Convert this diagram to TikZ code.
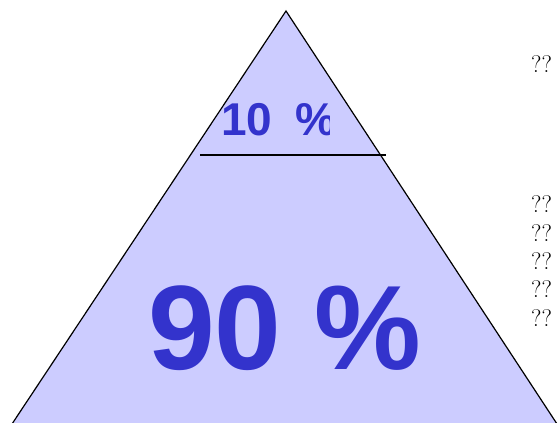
\documentclass[tikz,border=0pt]{standalone}
\usepackage{fontspec}
\newfontfamily\pctfont{Liberation Sans}
\usepackage{tikz}
\definecolor{pyrfill}{HTML}{CCCCFF}
\definecolor{pcttext}{HTML}{3333CC}

\begin{document}
\begin{tikzpicture}[
    x=1pt, y=-1pt,
    pyramid/.style={draw=black, line width=1.2pt, fill=pyrfill, line join=miter},
    divider/.style={draw=black, line width=1.2pt},
    pct/.style={inner sep=0pt, text=pcttext},
    note/.style={inner sep=0pt, anchor=base west, font=\fontsize{24}{28}\selectfont}
]
\useasboundingbox (0,0) rectangle (558,423);

% Pyramid outline
\coordinate (apex) at (286,11);
\coordinate (baseL) at (10,427);
\coordinate (baseR) at (559,427);
\path[pyramid] (apex) -- (baseL) -- (baseR) -- cycle;

% Divider between the two levels
\coordinate (divL) at (200,155);
\coordinate (divR) at (386,155);
\draw[divider] (divL) -- (divR);

% Percentages
\begin{scope}
  \clip (150,90) rectangle (329,150);
  \node[pct, anchor=base west, font=\pctfont\bfseries\fontsize{46}{54}\selectfont] (top) at (221,135) {10\hspace{10pt} \%};
\end{scope}
\node[pct, anchor=base, font=\pctfont\bfseries\fontsize{120}{144}\selectfont] (bottom) at (285,369) {90 \%};

% Side notes
\node[note] (n0) at (531,72) {??};
\foreach \i/\y in {1/212, 2/241, 3/269, 4/297, 5/326}
  \node[note] (n\i) at (531,\y) {??};

\end{tikzpicture}
\end{document}
